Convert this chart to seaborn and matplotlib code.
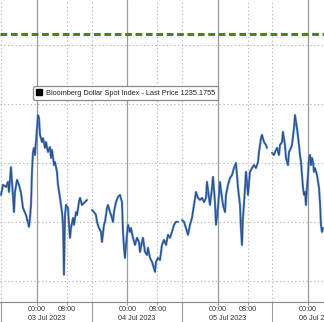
import numpy as np
import pandas as pd
import matplotlib
matplotlib.use("Agg")
import matplotlib.pyplot as plt
from matplotlib.lines import Line2D
import seaborn as sns

# ---- data (hours since 03 Jul 2023 00:00, index level) ----
seg1_hours = [-9.57, -9.03, -8.24, -7.71, -7.44, -6.91, -6.64, -6.11, -5.85, -5.31,
              -4.78, -4.25, -3.72, -2.92, -2.39, -2.13, -1.86, -1.59, -1.33, -1.06,
              -0.80, -0.53, -0.27, 0.00, 0.27, 0.53, 0.80, 1.33, 1.59, 2.13,
              2.39, 2.92, 3.45, 3.72, 3.99, 4.52, 4.78, 5.31, 5.58, 6.11,
              6.38, 6.64, 6.91, 7.17, 7.44, 7.71, 8.24, 8.50, 8.77, 9.03,
              9.57, 9.83, 10.36, 10.63, 11.16, 11.43, 11.96, 12.49, 12.75, 13.29]
seg1_values = [1234.92, 1235.26, 1235.19, 1235.36, 1235.02, 1235.86, 1235.36, 1234.34, 1235.02, 1235.43,
               1235.26, 1234.99, 1234.48, 1234.24, 1233.97, 1233.84, 1234.14, 1234.58, 1235.70, 1236.37,
               1236.51, 1236.27, 1236.71, 1237.18, 1237.62, 1237.52, 1236.95, 1236.71, 1236.84, 1236.51,
               1236.71, 1236.37, 1236.54, 1236.17, 1236.44, 1235.93, 1236.03, 1235.70, 1235.26, 1234.82,
               1234.58, 1234.34, 1233.91, 1232.22, 1234.24, 1234.58, 1234.48, 1233.91, 1233.47, 1233.80,
               1234.14, 1233.91, 1234.34, 1234.24, 1234.68, 1234.82, 1234.58, 1234.65, 1234.68, 1234.75]

seg2_hours = [14.61, 15.14, 15.68, 15.94, 16.47, 17.00, 17.27, 17.80, 18.07, 18.60,
              18.86, 19.40, 19.93, 20.19, 20.46, 20.99, 21.52, 22.05, 22.58, 22.85,
              23.12, 23.38, 23.65, 24.18, 24.71, 24.98, 25.51, 26.04, 26.57, 27.10,
              27.37, 27.90, 28.16, 28.70, 29.23, 29.49, 30.02, 30.56, 31.35, 31.62,
              32.15, 32.68, 33.21, 33.74, 34.28, 34.81, 35.34, 35.87, 36.40, 36.93,
              37.46]
seg2_values = [1234.41, 1234.34, 1234.24, 1234.01, 1233.80, 1233.67, 1233.33, 1233.91, 1234.01, 1234.48,
               1234.58, 1234.34, 1234.14, 1234.01, 1234.34, 1234.68, 1234.85, 1234.92, 1234.68, 1233.67,
               1233.13, 1232.79, 1233.23, 1233.91, 1233.67, 1233.80, 1233.47, 1233.23, 1233.47, 1233.33,
               1232.99, 1233.33, 1233.47, 1232.99, 1232.89, 1233.13, 1232.79, 1232.66, 1232.32, 1232.66,
               1232.79, 1232.72, 1233.23, 1233.40, 1233.23, 1233.57, 1233.47, 1233.67, 1233.91, 1234.01,
               1234.01]

seg3_hours = [38.53, 39.06, 39.59, 40.12, 40.65, 41.18, 41.71, 42.25, 42.78, 43.31,
              43.84, 44.37, 44.90, 45.17, 45.70, 45.97, 46.50, 46.76, 47.29, 47.56,
              48.09, 48.36, 48.62, 49.15, 49.42, 49.95, 50.22, 50.75, 51.28, 51.81,
              52.34, 52.87, 53.14, 53.41, 53.94, 54.20, 54.47, 54.73, 55.27, 55.53,
              55.80, 56.06, 56.59, 57.13, 57.66, 58.19, 58.72, 58.99, 59.52, 59.78,
              60.31, 60.85, 61.11]
seg3_values = [1234.07, 1234.01, 1233.80, 1233.57, 1233.91, 1234.14, 1234.58, 1235.02, 1234.82, 1234.75,
               1234.82, 1234.68, 1234.82, 1235.36, 1234.82, 1234.58, 1235.16, 1235.53, 1234.68, 1233.91,
               1234.48, 1234.92, 1235.36, 1234.82, 1234.58, 1234.34, 1234.92, 1235.26, 1235.49, 1235.59,
               1235.83, 1236.00, 1235.59, 1235.16, 1234.58, 1233.74, 1233.23, 1234.14, 1235.16, 1235.70,
               1235.36, 1234.92, 1235.70, 1235.83, 1235.93, 1235.83, 1236.03, 1236.37, 1236.84, 1236.95,
               1236.71, 1236.61, 1236.51]

seg4_hours = [62.44, 62.97, 63.24, 63.77, 64.30, 64.57, 65.10, 65.36, 65.89, 66.16,
              66.69, 66.96, 67.49, 67.75, 68.29, 68.55, 68.82, 69.08, 69.61, 69.88,
              70.15, 70.41, 70.68, 70.94, 71.21, 71.47, 71.74, 72.01, 72.27, 72.54,
              72.81, 73.07, 73.34, 73.60, 73.87, 74.40, 74.93, 75.19, 75.46, 75.73,
              75.99]
seg4_values = [1236.34, 1236.27, 1236.37, 1236.51, 1236.27, 1236.61, 1236.71, 1237.05, 1236.61, 1236.17,
               1235.93, 1236.37, 1236.51, 1236.61, 1237.18, 1237.62, 1237.39, 1237.18, 1236.61, 1236.27,
               1236.03, 1235.59, 1235.16, 1234.92, 1235.02, 1234.58, 1235.16, 1235.59, 1236.17, 1236.27,
               1235.93, 1236.17, 1236.03, 1235.70, 1235.83, 1235.59, 1235.16, 1234.68, 1233.91, 1233.67,
               1233.80]

level_line = 1240.36
level_line2 = 1240.26
legend_label = "Bloomberg Dollar Spot Index - Last Price 1235.1755"
time_tick_hours = [0, 8, 24, 32, 48, 56, 72]
time_tick_labels = ["00:00", "08:00", "00:00", "08:00", "00:00", "08:00", "00:00"]
date_hours = [0, 24, 48, 72]
date_labels = ["03 Jul 2023", "04 Jul 2023", "05 Jul 2023", "06 Jul 2023"]
day_line_hours = [0, 24, 48, 72]
dotted_hours = [-9.5, 8, 14.5, 32, 38.5, 56, 62.5]
separator_hours = [-9.5, 14.5, 38.5, 62.5]
y_grid = [1232, 1234, 1236, 1238, 1240]

frames = []
for i, (h, v) in enumerate([(seg1_hours, seg1_values), (seg2_hours, seg2_values),
                            (seg3_hours, seg3_values), (seg4_hours, seg4_values)]):
    frames.append(pd.DataFrame({"hours": h, "value": v, "seg": i}))
df = pd.concat(frames, ignore_index=True)

sns.set_theme(style="white")
plt.rcParams["font.family"] = ["Liberation Sans", "DejaVu Sans"]

fig = plt.figure(figsize=(3.24, 3.22), dpi=100)
ax = fig.add_axes([0, 20 / 322, 1, 302 / 322])
ax.set_facecolor("white")

ax.set_xlim(-9.83, 76.26)
ax.set_ylim(1231.30, 1241.51)

# grid
for yv in y_grid:
    ax.axhline(yv, color="#b4b8c0", lw=0.8, ls=(0, (1.2, 2.2)), zorder=1)
for hv in dotted_hours:
    ax.axvline(hv, color="#b8b8b8", lw=0.8, ls=(0, (1.2, 2.2)), zorder=1)
for hv in day_line_hours:
    ax.axvline(hv, color="#9a9a9a", lw=0.9, zorder=1)

ax.axhline(level_line2, color="#e4ecb0", lw=0.8, ls=(0, (1.2, 2.2)), zorder=1)
ax.axhline(level_line, color="#4f7f1f", lw=2.2, ls=(0, (2.2, 1.2)), zorder=2)

# series
sns.lineplot(data=df, x="hours", y="value", units="seg", estimator=None,
             color="#4a80cc", lw=1.6, ax=ax, zorder=3, legend=False)
sns.lineplot(data=df, x="hours", y="value", units="seg", estimator=None,
             color="#111111", lw=0.45, alpha=0.65, ax=ax, zorder=4, legend=False)

# legend
handle = Line2D([], [], marker="s", color="black", ls="none", markersize=4)
leg = ax.legend([handle], [legend_label], loc="upper left",
                bbox_to_anchor=(0.102, 0.715), frameon=True, fontsize=5.3,
                handlelength=0.8, handletextpad=0.45, borderpad=0.45,
                borderaxespad=0, fancybox=True)
leg.get_frame().set_edgecolor("#8a8a8a")
leg.get_frame().set_linewidth(0.9)
leg.get_frame().set_facecolor("white")
leg.get_frame().set_alpha(1)
for t in leg.get_texts():
    t.set_color("#222222")

# axes styling
for s in ["top", "right", "left"]:
    ax.spines[s].set_visible(False)
ax.spines["bottom"].set_color("#8a8a8a")
ax.spines["bottom"].set_linewidth(0.8)
ax.set_yticks([])
ax.set_xlabel("")
ax.set_ylabel("")
ax.set_xticks(time_tick_hours)
ax.set_xticklabels([])
ax.tick_params(axis="x", direction="out", length=2, width=0.6, color="#8a8a8a", bottom=True)

tr = ax.get_xaxis_transform()
for hv, lab in zip(time_tick_hours, time_tick_labels):
    ax.text(hv, -0.026, lab, transform=tr, ha="center", va="center",
            fontsize=5.2, color="#333333", clip_on=False)
for hv, lab in zip(date_hours, date_labels):
    ax.text(hv - 2.4, -0.053, lab, transform=tr, ha="left", va="center",
            fontsize=5.2, color="#333333", clip_on=False)
for hv in separator_hours:
    ax.plot([hv, hv], [0, -0.07], transform=tr, color="#9a9a9a", lw=0.8, clip_on=False)

fig.savefig("out.png", dpi=100, facecolor="white")
